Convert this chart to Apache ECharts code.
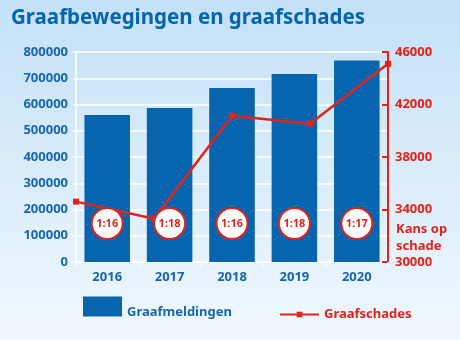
<!DOCTYPE html>
<html><head><meta charset="utf-8">
<script src="https://cdn.jsdelivr.net/npm/echarts@6/dist/echarts.min.js"></script>
<style>html,body{margin:0;padding:0;}#c{width:460px;height:340px;}</style>
</head><body><div id="c"></div>
<script>
var years = ['2016', '2017', '2018', '2019', '2020'];
var meldingen = [560000, 587000, 663000, 716000, 768000];
var schades = [34600, 33300, 41150, 40540, 45100];
var kans = ['1:16', '1:18', '1:16', '1:18', '1:17'];
var leftTicks = [0, 100000, 200000, 300000, 400000, 500000, 600000, 700000, 800000];
var rightTicks = [30000, 34000, 38000, 42000, 46000];

var BLUE = '#0765b0', TXT = '#1766ae', RED = '#e2231a';
var FONT = 'Noto Sans';
function plain(v) { return String(v); }
var chart = echarts.init(document.getElementById('c'));
chart.setOption({
  backgroundColor: new echarts.graphic.LinearGradient(0, 0, 0, 1, [
    {offset: 0, color: '#c3e1f6'}, {offset: 1, color: '#f0f8fe'}]),
  animation: false,
  textStyle: {fontFamily: FONT},
  title: {text: 'Graafbewegingen en graafschades', left: 6, top: 3,
    textStyle: {fontFamily: FONT, fontSize: 20.5, fontWeight: 'bold', color: BLUE}},
  grid: {left: 76, right: 72, top: 52, bottom: 78},
  legend: [
    {data: ['Graafmeldingen'], left: 78, top: 291.5, itemWidth: 39, itemHeight: 20, itemGap: 9,
      icon: 'rect',
      formatter: function (n) { return '{a|' + n + '}'; },
      textStyle: {fontFamily: FONT, fontSize: 13, fontWeight: 'bold', color: TXT,
        rich: {a: {fontFamily: FONT, fontSize: 13, fontWeight: 'bold', color: TXT, padding: [12, 0, 0, 0]}}}},
    {data: ['Graafschades'], left: 274, top: 303, itemWidth: 39, itemHeight: 7, itemGap: 8,
      textStyle: {fontFamily: FONT, fontSize: 13, fontWeight: 'bold', color: RED}}
  ],
  xAxis: [
    {type: 'category', data: years,
      axisLine: {show: true, lineStyle: {color: '#ffffff', width: 1.5}},
      axisTick: {show: true, length: 4, lineStyle: {color: '#ffffff', width: 1.5}},
      axisLabel: {fontFamily: FONT, fontSize: 13, fontWeight: 'bold', color: TXT, margin: 9}},
    {type: 'category', data: years, boundaryGap: false, show: false}
  ],
  yAxis: [
    {type: 'value', min: 0, max: 800000, interval: 100000,
      axisLine: {show: true, lineStyle: {color: '#ffffff', width: 1.5}},
      axisTick: {show: true, length: 3, lineStyle: {color: '#ffffff', width: 1.5}},
      splitLine: {lineStyle: {color: '#ffffff', width: 1.5}},
      axisLabel: {fontFamily: FONT, fontSize: 13, fontWeight: 'bold', color: TXT, margin: 8,
        customValues: leftTicks, formatter: plain}},
    {type: 'value', min: 30000, max: 46000, position: 'right',
      axisLine: {show: true, lineStyle: {color: RED, width: 2}},
      axisTick: {show: true, inside: true, length: 6, lineStyle: {color: RED, width: 2},
        customValues: rightTicks},
      splitLine: {show: false},
      axisLabel: {fontFamily: FONT, fontSize: 13, fontWeight: 'bold', color: RED, margin: 7,
        customValues: rightTicks, formatter: plain}}
  ],
  graphic: [{type: 'text', left: 396, top: 221, z: 10,
    style: {text: 'Kans op\nschade', fill: RED, font: 'bold 13px "Noto Sans"', lineHeight: 17}}],
  series: [
    {name: 'Graafmeldingen', type: 'bar', data: meldingen, barWidth: '73%', z: 2,
      itemStyle: {color: BLUE}},
    {name: 'Graafschades', type: 'line', data: schades, xAxisIndex: 1, yAxisIndex: 1, z: 3,
      symbol: 'rect', symbolSize: 6,
      lineStyle: {color: RED, width: 2.5}, itemStyle: {color: RED}},
    {name: 'kans', type: 'bar', data: meldingen, barWidth: '73%', barGap: '-100%', z: 4,
      itemStyle: {color: 'transparent'}, silent: true,
      label: {show: true, position: 'insideBottom', distance: 24, padding: 0,
        formatter: function (p) { return '{c|' + kans[p.dataIndex] + '}'; },
        rich: {c: {width: 29, height: 29, lineHeight: 29, align: 'center', padding: 0,
          backgroundColor: '#ffffff', borderColor: RED, borderWidth: 2, borderRadius: 15,
          color: RED, fontFamily: FONT, fontSize: 11, fontWeight: 'bold'}}}}
  ]
});
</script></body></html>
